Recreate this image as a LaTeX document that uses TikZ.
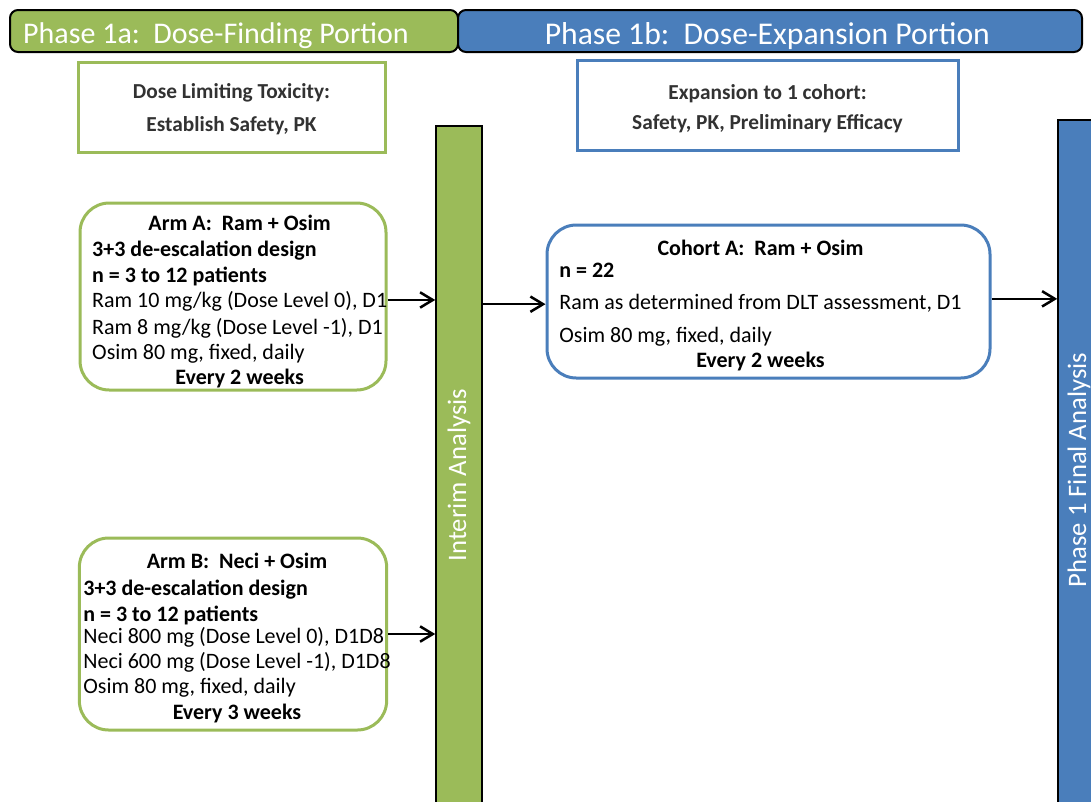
\documentclass[tikz,border=0pt]{standalone}
\usepackage{fontspec}
\setmainfont{Carlito}
\usetikzlibrary{arrows.meta}
\definecolor{phgreen}{RGB}{155,187,89}
\definecolor{phblue}{RGB}{74,126,187}
\definecolor{goaltxt}{RGB}{50,50,50}

\begin{document}
\begin{tikzpicture}[x=0.75pt,y=0.75pt,yscale=-1,xscale=1,
  header/.style={draw=black,line width=1.5,rounded corners=6,minimum height=31.5pt,inner sep=0,text depth=0pt,text=white},
  goalbox/.style={line width=2.25,fill=white,minimum height=67.5pt,inner sep=0,text=goaltxt,font=\bfseries\fontsize{16}{24.5}\selectfont},
  armbox/.style={line width=2.25,rounded corners=22,fill=white,inner sep=0,font=\fontsize{16.5}{19}\selectfont},
  bar/.style={draw=black,line width=1.2,inner sep=0},
  bartext/.style={text=white,font=\fontsize{20}{24}\selectfont,inner sep=0},
  flow/.style={line width=1.9,-{Straight Barb[length=9.5pt,width=11.5pt]}},
]
\useasboundingbox (0,0) rectangle (1091,801);

% Phase headers
\node (hdra) at (234,31) [header,fill=phgreen,minimum width=336pt,font=\fontsize{22.5}{26}\selectfont] {\hspace*{-13.5pt}\raisebox{-3pt}{Phase 1a:\ \ Dose-Finding Portion}\hspace*{13.5pt}};
\node (hdrb) at (770,31) [header,fill=phblue,minimum width=468pt,font=\fontsize{23.75}{27}\selectfont] {\hspace*{-2pt}\raisebox{-3pt}{Phase 1b:\ \ Dose-Expansion Portion}\hspace*{2pt}};

% Goal boxes
\node (dlt) at (231.5,107) [goalbox,draw=phgreen,minimum width=230.25pt] {\raisebox{-1pt}[\height][\depth]{%
\begin{tabular}{@{}c@{}}Dose Limiting Toxicity:\\Establish Safety, PK\end{tabular}}};
\node (expn) at (767.5,105) [goalbox,draw=phblue,minimum width=285.75pt,font=\bfseries\fontsize{16}{23}\selectfont] {\raisebox{-2.5pt}[\height][\depth]{%
\begin{tabular}{@{}c@{}}Expansion to 1 cohort:\\Safety, PK, Preliminary Efficacy\end{tabular}}};

% Analysis bars
\node (interim) at (459,469) [bar,fill=phgreen,minimum width=34.5pt,minimum height=514.5pt,
  label={[bartext,yshift=-4.5pt,rotate=90]center:Interim Analysis}] {};
\node (final) at (1079,466) [bar,fill=phblue,minimum width=31.5pt,minimum height=519pt,
  label={[bartext,yshift=-3pt,rotate=90]center:Phase 1 Final Analysis}] {};

% Arm A
\node (armA) at (233,296.5) [armbox,draw=phgreen,minimum width=229.5pt,minimum height=140.25pt] {\hspace*{5pt}\raisebox{-4.5pt}[\height][\depth]{%
\begin{tabular}{@{}l@{}}
\multicolumn{1}{@{}c@{}}{\textbf{Arm A:\ \ Ram + Osim}}\\[1pt]
\textbf{3+3 de-escalation design}\\
\textbf{n = 3 to 12 patients}\\
Ram 10 mg/kg (Dose Level 0), D1\\[1pt]
Ram 8 mg/kg (Dose Level -1), D1\\
Osim 80 mg, fixed, daily\\
\multicolumn{1}{@{}c@{}}{\textbf{Every 2 weeks}}
\end{tabular}}\hspace*{-5pt}};

% Arm B
\node (armB) at (233,634) [armbox,draw=phgreen,minimum width=229.5pt,minimum height=144pt] {\hspace*{3pt}\raisebox{-3.5pt}[\height][\depth]{%
\begin{tabular}{@{}l@{}}
\multicolumn{1}{@{}c@{}}{\textbf{Arm B:\ \ Neci + Osim}}\\[1.5pt]
\textbf{3+3 de-escalation design}\\
\textbf{n = 3 to 12 patients}\\[-2.5pt]
Neci 800 mg (Dose Level 0), D1D8\\
Neci 600 mg (Dose Level -1), D1D8\\
Osim 80 mg, fixed, daily\\
\multicolumn{1}{@{}c@{}}{\textbf{Every 3 weeks}}
\end{tabular}}\hspace*{-3pt}};

% Cohort A
\node (cohort) at (768.5,301.5) [armbox,draw=phblue,minimum width=332.25pt,minimum height=114.75pt] {\hspace*{-6pt}\raisebox{-3.75pt}[\height][\depth]{%
\begin{tabular}{@{}l@{}}
\multicolumn{1}{@{}c@{}}{\textbf{Cohort A:\ \ Ram + Osim}}\\[-2.5pt]
\textbf{n = 22}\\[5pt]
Ram as determined from DLT assessment, D1\\[5.5pt]
Osim 80 mg, fixed, daily\\
\multicolumn{1}{@{}c@{}}{\textbf{Every 2 weeks}}
\end{tabular}}\hspace*{6pt}};

% Arrows
\draw [flow] ([yshift=2.6pt]armA.east) -- ([yshift=2.6pt]armA.east -| interim.west);
\draw [flow] (armB.east) -- (armB.east -| interim.west);
\draw [flow] ([yshift=2pt]interim.east |- cohort.west) -- ([yshift=2pt]cohort.west);
\draw [flow] ([yshift=-2pt]cohort.east) -- ([yshift=-2pt]cohort.east -| final.west);
\end{tikzpicture}
\end{document}
